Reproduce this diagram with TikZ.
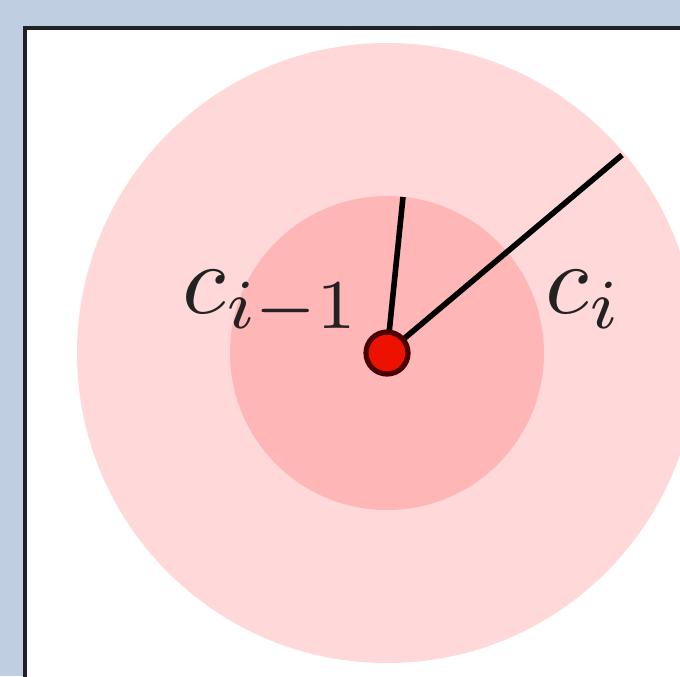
\documentclass[tikz,border=0pt]{standalone}
\usepackage{graphicx}
\usepackage{tikz}
\usetikzlibrary{positioning}

\definecolor{bgblue}{RGB}{191,207,225}
\definecolor{framegray}{RGB}{34,34,36}
\definecolor{outerpink}{RGB}{255,217,217}
\definecolor{innerpink}{RGB}{255,182,182}
\definecolor{dotred}{RGB}{236,17,0}
\definecolor{dotrim}{RGB}{74,0,0}
\definecolor{labelink}{RGB}{34,34,34}

\newcommand{\biglabel}[1]{\scalebox{2.5}{$#1$}}

\begin{document}
\begin{tikzpicture}[
    x=0.25pt, y=-0.25pt,
    radius line/.style={line width=1.4pt, black},
    lbl/.style={inner sep=0pt, anchor=base west, text=labelink}
]
\useasboundingbox (0,0) rectangle (680,676);
\clip (0,0) rectangle (680,676);
\fill[bgblue] (0,0) rectangle (680,676);
\filldraw[fill=white, draw=framegray, line width=1pt] (25,28) rectangle (720,720);

% rings round the centre point
\coordinate (ctr) at (387,353);
\fill[outerpink] (ctr) circle[radius=310];
\fill[innerpink] (ctr) circle[radius=157];

\coordinate (innerend) at (403,197);
\coordinate (outerend) at (622,155);
\draw[radius line] (ctr) -- (innerend);
\draw[radius line] (ctr) -- (outerend);

\node[circle, fill=dotred, draw=dotrim, line width=1.3pt, minimum size=10.5pt, inner sep=0pt] (dot) at (ctr) {};

\node[lbl] (cprev) at (182,313) {\biglabel{c_{i-1}}};
\node[lbl] (ccur) at (545,313) {\biglabel{c_i}};
\end{tikzpicture}
\end{document}
